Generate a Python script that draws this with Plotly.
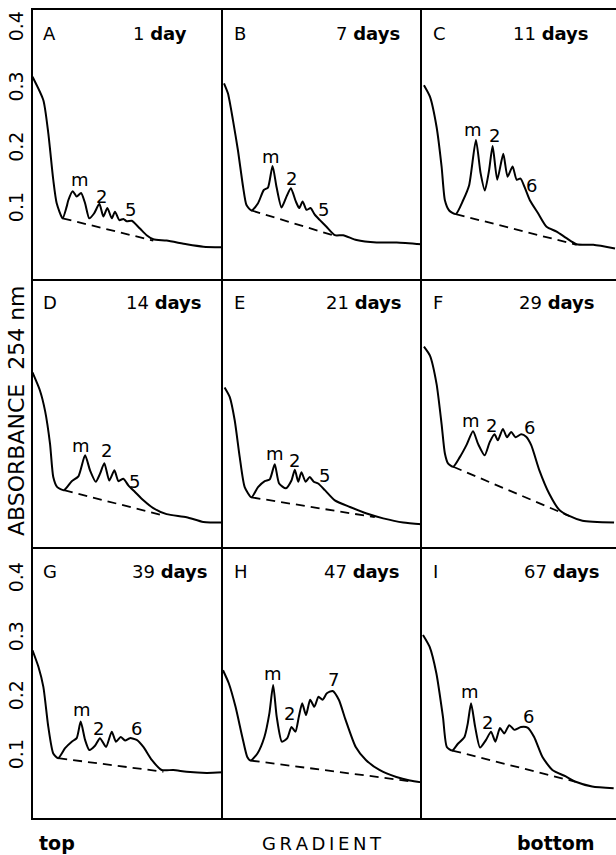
import plotly.graph_objects as go

# ---------------- data (x = fraction of gradient, top -> bottom; y = absorbance 254 nm)
A_x = [0.0, 0.057, 0.083, 0.109, 0.127, 0.158, 0.179, 0.188, 0.211, 0.232, 0.255, 0.276, 0.298, 0.323, 0.351, 0.372, 0.393, 0.416, 0.433, 0.456, 0.477, 0.495, 0.521, 0.564, 0.599, 0.634, 0.704, 0.809, 0.897, 0.993]
A_y = [0.321, 0.282, 0.227, 0.150, 0.111, 0.086, 0.105, 0.116, 0.131, 0.122, 0.128, 0.111, 0.086, 0.094, 0.110, 0.089, 0.103, 0.086, 0.097, 0.083, 0.085, 0.081, 0.082, 0.069, 0.058, 0.0513, 0.049, 0.043, 0.039, 0.038]
B_x = [0.005, 0.025, 0.050, 0.075, 0.101, 0.118, 0.143, 0.176, 0.205, 0.226, 0.249, 0.269, 0.294, 0.319, 0.341, 0.366, 0.383, 0.400, 0.420, 0.440, 0.461, 0.487, 0.520, 0.562, 0.604, 0.671, 0.772, 0.873, 0.998]
B_y = [0.310, 0.293, 0.249, 0.199, 0.138, 0.108, 0.099, 0.111, 0.133, 0.137, 0.173, 0.138, 0.104, 0.122, 0.136, 0.114, 0.103, 0.114, 0.100, 0.103, 0.092, 0.083, 0.072, 0.058, 0.058, 0.050, 0.046, 0.046, 0.043]
C_x = [0.010, 0.041, 0.075, 0.101, 0.118, 0.140, 0.174, 0.212, 0.243, 0.278, 0.302, 0.324, 0.346, 0.364, 0.388, 0.419, 0.441, 0.467, 0.488, 0.508, 0.531, 0.556, 0.599, 0.642, 0.694, 0.745, 0.797, 0.883, 0.995]
C_y = [0.307, 0.288, 0.238, 0.172, 0.116, 0.099, 0.093, 0.116, 0.141, 0.216, 0.161, 0.132, 0.166, 0.206, 0.150, 0.193, 0.155, 0.172, 0.150, 0.152, 0.136, 0.116, 0.094, 0.072, 0.064, 0.053, 0.043, 0.042, 0.036]
D_x = [0.0, 0.039, 0.066, 0.092, 0.109, 0.130, 0.165, 0.206, 0.241, 0.276, 0.302, 0.332, 0.354, 0.377, 0.403, 0.430, 0.451, 0.477, 0.503, 0.538, 0.582, 0.634, 0.704, 0.809, 0.897, 1.0]
D_y = [0.276, 0.246, 0.212, 0.157, 0.102, 0.085, 0.080, 0.095, 0.103, 0.138, 0.113, 0.094, 0.107, 0.125, 0.096, 0.113, 0.095, 0.099, 0.088, 0.077, 0.063, 0.050, 0.040, 0.035, 0.027, 0.026]
E_x = [0.008, 0.034, 0.059, 0.084, 0.109, 0.143, 0.176, 0.210, 0.235, 0.260, 0.282, 0.316, 0.344, 0.361, 0.378, 0.394, 0.415, 0.436, 0.456, 0.478, 0.512, 0.562, 0.638, 0.722, 0.805, 0.906, 0.998]
E_y = [0.251, 0.235, 0.196, 0.135, 0.085, 0.068, 0.085, 0.095, 0.098, 0.123, 0.091, 0.083, 0.096, 0.114, 0.094, 0.110, 0.094, 0.102, 0.094, 0.091, 0.080, 0.063, 0.052, 0.041, 0.033, 0.026, 0.023]
F_x = [0.010, 0.041, 0.075, 0.101, 0.118, 0.135, 0.161, 0.195, 0.229, 0.263, 0.289, 0.323, 0.349, 0.374, 0.391, 0.417, 0.438, 0.460, 0.482, 0.511, 0.537, 0.563, 0.605, 0.656, 0.708, 0.759, 0.827, 0.990]
F_y = [0.319, 0.304, 0.257, 0.190, 0.141, 0.124, 0.119, 0.135, 0.155, 0.178, 0.157, 0.138, 0.160, 0.173, 0.163, 0.182, 0.168, 0.177, 0.168, 0.173, 0.169, 0.155, 0.113, 0.074, 0.047, 0.037, 0.029, 0.026]
G_x = [0.0, 0.031, 0.057, 0.083, 0.109, 0.135, 0.171, 0.206, 0.232, 0.253, 0.276, 0.298, 0.328, 0.354, 0.386, 0.416, 0.438, 0.463, 0.486, 0.512, 0.547, 0.582, 0.626, 0.678, 0.739, 0.809, 0.914, 1.0]
G_y = [0.281, 0.253, 0.219, 0.151, 0.106, 0.098, 0.115, 0.126, 0.132, 0.160, 0.129, 0.112, 0.119, 0.132, 0.117, 0.143, 0.126, 0.134, 0.128, 0.132, 0.129, 0.117, 0.095, 0.078, 0.078, 0.075, 0.073, 0.074]
H_x = [0.0, 0.029, 0.063, 0.097, 0.122, 0.139, 0.173, 0.208, 0.233, 0.252, 0.270, 0.296, 0.323, 0.344, 0.364, 0.381, 0.398, 0.417, 0.438, 0.459, 0.480, 0.500, 0.522, 0.551, 0.582, 0.616, 0.667, 0.718, 0.786, 0.871, 0.939, 0.998]
H_y = [0.247, 0.225, 0.185, 0.134, 0.100, 0.094, 0.106, 0.134, 0.174, 0.222, 0.168, 0.126, 0.132, 0.151, 0.143, 0.168, 0.191, 0.171, 0.197, 0.185, 0.202, 0.197, 0.208, 0.212, 0.197, 0.163, 0.117, 0.095, 0.078, 0.066, 0.060, 0.057]
I_x = [0.005, 0.039, 0.074, 0.108, 0.128, 0.156, 0.184, 0.219, 0.236, 0.253, 0.274, 0.299, 0.330, 0.356, 0.378, 0.402, 0.424, 0.450, 0.476, 0.510, 0.544, 0.578, 0.621, 0.672, 0.741, 0.792, 0.877, 0.988]
I_y = [0.307, 0.287, 0.242, 0.168, 0.117, 0.111, 0.122, 0.134, 0.157, 0.191, 0.151, 0.116, 0.129, 0.143, 0.126, 0.149, 0.140, 0.154, 0.146, 0.151, 0.150, 0.134, 0.100, 0.078, 0.067, 0.058, 0.050, 0.047]

# dashed baselines: [start, end]
A_base_x, A_base_y = [0.158, 0.634], [0.086, 0.049]
B_base_x, B_base_y = [0.143, 0.571], [0.099, 0.056]
C_base_x, C_base_y = [0.174, 0.797], [0.093, 0.042]
D_base_x, D_base_y = [0.165, 0.696], [0.080, 0.037]
E_base_x, E_base_y = [0.143, 0.763], [0.068, 0.035]
F_base_x, F_base_y = [0.161, 0.759], [0.119, 0.037]
G_base_x, G_base_y = [0.135, 0.687], [0.098, 0.075]
H_base_x, H_base_y = [0.139, 0.939], [0.094, 0.059]
I_base_x, I_base_y = [0.156, 0.792], [0.111, 0.058]

# peak labels
A_peak_text, A_peak_x, A_peak_y = ["m", "2", "5"], [0.249, 0.363, 0.517], [0.150, 0.122, 0.100]
B_peak_text, B_peak_x, B_peak_y = ["m", "2", "5"], [0.243, 0.344, 0.503], [0.188, 0.152, 0.100]
C_peak_text, C_peak_x, C_peak_y = ["m", "2", "6"], [0.264, 0.376, 0.565], [0.233, 0.224, 0.141]
D_peak_text, D_peak_x, D_peak_y = ["m", "2", "5"], [0.255, 0.386, 0.538], [0.155, 0.146, 0.095]
E_peak_text, E_peak_x, E_peak_y = ["m", "2", "5"], [0.260, 0.361, 0.512], [0.141, 0.130, 0.105]
F_peak_text, F_peak_x, F_peak_y = ["m", "2", "6"], [0.255, 0.357, 0.554], [0.196, 0.188, 0.185]
G_peak_text, G_peak_x, G_peak_y = ["m", "2", "6"], [0.258, 0.346, 0.547], [0.180, 0.149, 0.149]
H_peak_text, H_peak_x, H_peak_y = ["m", "2", "7"], [0.250, 0.335, 0.556], [0.242, 0.174, 0.231]
I_peak_text, I_peak_x, I_peak_y = ["m", "2", "6"], [0.248, 0.339, 0.549], [0.211, 0.158, 0.168]

panel_letters = ["A", "B", "C", "D", "E", "F", "G", "H", "I"]
panel_days = ["1", "7", "11", "14", "21", "29", "39", "47", "67"]
day_words = ["day", "days", "days", "days", "days", "days", "days", "days", "days"]
day_label_x = [0.82, 0.90, 0.87, 0.90, 0.91, 0.90, 0.93, 0.90, 0.93]

tick_vals = [0.1, 0.2, 0.3, 0.4]
tick_text = ["0.1", "0.2", "0.3", "0.4"]

# ---------------- layout geometry
W, H = 616, 855
col_px = [(32.5, 223), (223, 422), (422, 616)]
row_px = [(10, 279), (279, 547), (547, 818)]
row_ranges = [[-0.0147, 0.4317], [-0.0147, 0.4317], [-0.0034, 0.456]]
title_y = [0.393, 0.393, 0.414]

curves = [(A_x, A_y), (B_x, B_y), (C_x, C_y), (D_x, D_y), (E_x, E_y), (F_x, F_y), (G_x, G_y), (H_x, H_y), (I_x, I_y)]
bases = [(A_base_x, A_base_y), (B_base_x, B_base_y), (C_base_x, C_base_y), (D_base_x, D_base_y), (E_base_x, E_base_y),
         (F_base_x, F_base_y), (G_base_x, G_base_y), (H_base_x, H_base_y), (I_base_x, I_base_y)]
peaks = [(A_peak_text, A_peak_x, A_peak_y), (B_peak_text, B_peak_x, B_peak_y), (C_peak_text, C_peak_x, C_peak_y),
         (D_peak_text, D_peak_x, D_peak_y), (E_peak_text, E_peak_x, E_peak_y), (F_peak_text, F_peak_x, F_peak_y),
         (G_peak_text, G_peak_x, G_peak_y), (H_peak_text, H_peak_x, H_peak_y), (I_peak_text, I_peak_x, I_peak_y)]

FONT = "DejaVu Sans"
LW = 2.2
fig = go.Figure()
annotations = []
layout_axes = {}

for i in range(9):
    r, c = divmod(i, 3)
    n = i + 1
    xa = "x" if n == 1 else f"x{n}"
    ya = "y" if n == 1 else f"y{n}"
    xk = "xaxis" if n == 1 else f"xaxis{n}"
    yk = "yaxis" if n == 1 else f"yaxis{n}"
    x0, x1 = col_px[c]
    y0, y1 = row_px[r]
    cx, cy = curves[i]
    fig.add_trace(go.Scatter(x=cx, y=cy, mode="lines", xaxis=xa, yaxis=ya,
                             line=dict(color="black", width=2, shape="spline", smoothing=0.6),
                             showlegend=False, hoverinfo="skip"))
    bx, by = bases[i]
    fig.add_trace(go.Scatter(x=bx, y=by, mode="lines", xaxis=xa, yaxis=ya,
                             line=dict(color="black", width=1.8, dash="9px,6px"),
                             showlegend=False, hoverinfo="skip"))
    # each panel draws its left and bottom edges; top row also draws the top edge
    layout_axes[xk] = dict(domain=[x0 / W, x1 / W], range=[0, 1], showgrid=False, zeroline=False,
                           showticklabels=False, ticks="", showline=True, linecolor="black", linewidth=LW,
                           mirror=(r == 0), anchor=ya, fixedrange=True)
    show_ticks = (c == 0 and r != 1)
    layout_axes[yk] = dict(domain=[1 - y1 / H, 1 - y0 / H], range=row_ranges[r], showgrid=False, zeroline=False,
                           showline=True, linecolor="black", linewidth=LW,
                           mirror=False, anchor=xa, fixedrange=True,
                           showticklabels=show_ticks, tickvals=tick_vals, ticktext=tick_text,
                           tickangle=-90, ticks="", tickfont=dict(family=FONT, size=19, color="black"))
    # panel letter
    annotations.append(dict(text=panel_letters[i], x=0.045, y=title_y[r], xref=xa, yref=ya,
                            xanchor="left", yanchor="middle", showarrow=False,
                            font=dict(family=FONT, size=18, color="black")))
    annotations.append(dict(text=f"{panel_days[i]} <b>{day_words[i]}</b>", x=day_label_x[i], y=title_y[r],
                            xref=xa, yref=ya, xanchor="right", yanchor="middle", showarrow=False,
                            font=dict(family=FONT, size=18, color="black")))
    pt, px, py = peaks[i]
    for t, xx, yy in zip(pt, px, py):
        annotations.append(dict(text=t, x=xx, y=yy, xref=xa, yref=ya, xanchor="center", yanchor="middle",
                                showarrow=False, font=dict(family=FONT, size=18, color="black")))

# axis-level labels
annotations.append(dict(text="ABSORBANCE  254 nm", x=17 / W, y=1 - 411 / H, xref="paper", yref="paper",
                        textangle=-90, showarrow=False, xanchor="center", yanchor="middle",
                        font=dict(family=FONT, size=22, color="black")))
annotations.append(dict(text="<b>top</b>", x=57 / W, y=1 - 843 / H, xref="paper", yref="paper",
                        showarrow=False, xanchor="center", yanchor="middle",
                        font=dict(family=FONT, size=19, color="black")))
annotations.append(dict(text="G\u2009R\u2009A\u2009D\u2009I\u2009E\u2009N\u2009T", x=322 / W, y=1 - 843 / H,
                        xref="paper", yref="paper", showarrow=False, xanchor="center", yanchor="middle",
                        font=dict(family=FONT, size=18, color="black")))
annotations.append(dict(text="<b>bottom</b>", x=556 / W, y=1 - 843 / H, xref="paper", yref="paper",
                        showarrow=False, xanchor="center", yanchor="middle",
                        font=dict(family=FONT, size=19, color="black")))

fig.update_layout(width=W, height=H, autosize=False, margin=dict(l=0, r=0, t=0, b=0),
                  paper_bgcolor="white", plot_bgcolor="white", annotations=annotations,
                  font=dict(family=FONT, color="black"), **layout_axes)

fig.write_html("out.html", config={"displayModeBar": False},
               post_script="document.body.style.margin='0';document.body.style.overflow='hidden';")
